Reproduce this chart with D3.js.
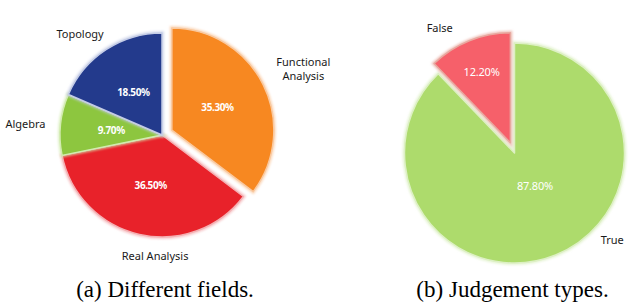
<!DOCTYPE html>
<html>
<head>
<meta charset="utf-8">
<script src="https://cdn.jsdelivr.net/npm/d3@7/dist/d3.min.js"></script>
<style>
  html, body { margin: 0; padding: 0; background: #fff; }
  svg { display: block; }
</style>
</head>
<body>
<div id="chart"></div>
<script>
// data
const fieldNames = ['Functional Analysis', 'Real Analysis', 'Algebra', 'Topology'];
const fieldShares = [35.3, 36.5, 9.7, 18.5];
const judgeNames = ['True', 'False'];
const judgeShares = [87.8, 12.2];
const captions = ['(a) Different fields.', '(b) Judgement types.'];

const w = 636;
const h = 308;

const svg = d3.select('#chart')
    .append('svg')
    .attr('width', w)
    .attr('height', h);

// soft glow round the slices
const defs = svg.append('defs');
defs.append('filter')
    .attr('id', 'glow')
    .attr('x', '-20%').attr('y', '-20%')
    .attr('width', '140%').attr('height', '140%')
    .append('feGaussianBlur')
    .attr('stdDeviation', 1.2);

const toRad = deg => deg * Math.PI / 180;
const polar = (cx, cy, r, a) => [cx + r * Math.sin(a), cy - r * Math.cos(a)];

function drawPie(opts) {
    const { names, values, cx, cy, r, colors, rims, explode, inner, outer, boldPct } = opts;

    const pie = d3.pie().sort(null).value(d => d)(values);
    const arc = d3.arc().innerRadius(0).outerRadius(r);
    const g = svg.append('g');

    pie.forEach((p, i) => {
        const name = names[i];
        const mid = (p.startAngle + p.endAngle) / 2;
        const off = explode[name] || 0;
        const [ox, oy] = polar(0, 0, off, mid);
        const sg = g.append('g').attr('transform', `translate(${cx + ox},${cy + oy})`);

        // glow
        sg.append('path')
            .attr('d', arc(p))
            .attr('fill', 'none')
            .attr('stroke', rims[i])
            .attr('stroke-width', 4)
            .attr('stroke-opacity', 0.7)
            .attr('filter', 'url(#glow)');
        // slice
        sg.append('path')
            .attr('d', arc(p))
            .attr('fill', colors[i])
            .attr('stroke', rims[i])
            .attr('stroke-width', 1.5)
            .attr('stroke-linejoin', 'round');

        // percentage inside
        const [ia, ir] = inner[name];
        const [tx, ty] = polar(0, 0, ir, mid + toRad(ia));
        sg.append('text')
            .attr('x', tx)
            .attr('y', ty)
            .attr('text-anchor', 'middle')
            .attr('dominant-baseline', 'central')
            .attr('font-family', '"Noto Sans", sans-serif')
            .attr('font-size', boldPct ? 10 : 11)
            .attr('font-weight', boldPct ? 700 : 400)
            .attr('letter-spacing', boldPct ? -0.4 : -0.2)
            .attr('fill', '#fff')
            .text(d3.format('.2f')(values[i]) + '%');

        // category label outside (two-word labels on the right wrap)
        const [la, lr] = outer[name];
        const [lx, ly] = polar(0, 0, lr, mid + toRad(la));
        const lines = name === 'Functional Analysis' ? ['Functional', 'Analysis'] : [name];
        lines.forEach((ln, k) => {
            sg.append('text')
                .attr('x', lx)
                .attr('y', ly + (k - (lines.length - 1) / 2) * 13.5)
                .attr('dy', '0.35em')
                .attr('text-anchor', 'middle')
                .attr('font-family', '"Noto Sans", sans-serif')
                .attr('font-size', 11)
                .attr('fill', '#1a1a1a')
                .text(ln);
        });
    });
}

// (a) fields
drawPie({
    names: fieldNames,
    values: fieldShares,
    cx: 162, cy: 135, r: 102,
    colors: ['#F78821', '#E8222A', '#8DC63F', '#233A8C'],
    rims: ['#F9C9A0', '#F4B0B3', '#D2EBB0', '#C4CCE6'],
    explode: { 'Functional Analysis': 11 },
    inner: {
        'Functional Analysis': [0, 51], 'Real Analysis': [0, 51],
        'Algebra': [0, 51], 'Topology': [0, 52]
    },
    outer: {
        'Functional Analysis': [1.5, 145], 'Real Analysis': [-9.5, 121],
        'Algebra': [-1.4, 137], 'Topology': [-5.8, 130]
    },
    boldPct: true
});

// (b) judgement types
drawPie({
    names: judgeNames,
    values: judgeShares,
    cx: 514.5, cy: 153, r: 110,
    colors: ['#ADDB6C', '#F6606A'],
    rims: ['#DDF0C4', '#E8A9A0'],
    explode: { 'False': 11 },
    inner: { 'True': [-10.6, 38], 'False': [0, 77] },
    outer: { 'True': [-26.3, 131], 'False': [-9.6, 135] },
    boldPct: false
});

// captions
svg.selectAll('text.caption')
    .data(captions)
    .enter()
    .append('text')
    .attr('class', 'caption')
    .attr('x', (d, i) => i === 0 ? 165 : 512.5)
    .attr('y', 297)
    .attr('text-anchor', 'middle')
    .attr('font-family', '"Liberation Serif", "Times New Roman", serif')
    .attr('font-size', 23)
    .attr('fill', '#000')
    .text(d => d);
</script>
</body>
</html>
